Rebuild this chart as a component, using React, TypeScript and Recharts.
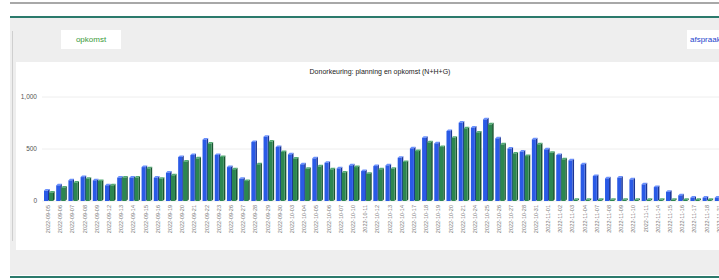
import React from "react";
import { BarChart, Bar, XAxis, YAxis, CartesianGrid } from "recharts";

const dates = [
  "2022-09-05", "2022-09-06", "2022-09-07", "2022-09-08", "2022-09-09",
  "2022-09-12", "2022-09-13", "2022-09-14", "2022-09-15", "2022-09-16",
  "2022-09-19", "2022-09-20", "2022-09-21", "2022-09-22", "2022-09-23",
  "2022-09-26", "2022-09-27", "2022-09-28", "2022-09-29", "2022-09-30",
  "2022-10-03", "2022-10-04", "2022-10-05", "2022-10-06", "2022-10-07",
  "2022-10-10", "2022-10-11", "2022-10-12", "2022-10-13", "2022-10-14",
  "2022-10-17", "2022-10-18", "2022-10-19", "2022-10-20", "2022-10-21",
  "2022-10-24", "2022-10-25", "2022-10-26", "2022-10-27", "2022-10-28",
  "2022-10-31", "2022-11-01", "2022-11-02", "2022-11-03", "2022-11-04",
  "2022-11-07", "2022-11-08", "2022-11-09", "2022-11-10", "2022-11-11",
  "2022-11-14", "2022-11-15", "2022-11-16", "2022-11-17", "2022-11-18",
  "2022-11-21",
];

const planning = [
  100, 150, 198, 230, 198, 150, 224, 224, 326, 224,
  272, 423, 442, 590, 442, 326, 214, 567, 618, 519,
  448, 352, 410, 368, 314, 342, 288, 336, 342, 416,
  506, 608, 554, 673, 753, 705, 785, 602, 503, 474,
  593, 496, 442, 390, 352, 240, 218, 224, 208, 160,
  134, 89, 54, 32, 32, 32,
];

const opkomst = [
  80, 128, 176, 214, 192, 150, 224, 224, 314, 214,
  246, 378, 410, 551, 423, 304, 192, 352, 570, 471,
  407, 310, 333, 304, 272, 326, 262, 304, 310, 375,
  480, 564, 519, 608, 698, 657, 737, 544, 455, 432,
  544, 464, 400, 12, 12, 12, 12, 12, 12, 12,
  12, 12, 10, 10, 10, 10,
];

const yTicks = [0, 500, 1000];

const data = dates.map((d, i) => ({ date: d, planning: planning[i], opkomst: opkomst[i] }));

const makeShape = (front: string, side: string, top: string) => (props: any) => {
  const { x, y, width, height } = props;
  if (x == null || y == null) return null;
  const d = 1.6;
  const w = width;
  const h = Math.max(height, 0);
  return (
    <g>
      <polygon points={`${x + w},${y} ${x + w + d},${y - d} ${x + w + d},${y + h - d} ${x + w},${y + h}`} fill={side} />
      <polygon points={`${x},${y} ${x + d},${y - d} ${x + w + d},${y - d} ${x + w},${y}`} fill={top} />
      <rect x={x} y={y} width={w} height={h} fill={front} />
    </g>
  );
};

const BlueShape = makeShape("#2a5ae6", "#1a3596", "#6a90ff");
const GreenShape = makeShape("#2c8750", "#1a5632", "#52ad74");

const XTick = (props: any) => {
  const { x, y, payload } = props;
  return (
    <text
      x={x}
      y={y}
      transform={`rotate(-90, ${x}, ${y})`}
      textAnchor="end"
      dy="0.35em"
      fontSize={5.5}
      fill="#777"
      fontFamily="Liberation Sans, Arial, sans-serif"
    >
      {payload.value}
    </text>
  );
};

export default function App() {
  return (
    <div
      style={{
        position: "fixed",
        left: 0,
        top: 0,
        width: 719,
        height: 280,
        overflow: "hidden",
        background: "#ffffff",
        fontFamily: "Liberation Sans, Arial, sans-serif",
      }}
    >
      {/* top gray line */}
      <div style={{ position: "absolute", left: 10, top: 2, width: 709, height: 2, background: "#a8a8a8" }} />
      {/* teal line */}
      <div style={{ position: "absolute", left: 10, top: 16, width: 709, height: 2, background: "#2b7a6c" }} />
      {/* gray band */}
      <div style={{ position: "absolute", left: 10, top: 18, width: 709, height: 257, background: "#eeeeee" }} />
      {/* left thin line */}
      <div style={{ position: "absolute", left: 12, top: 31, width: 1, height: 210, background: "#cfcfcf" }} />
      {/* opkomst button */}
      <div
        style={{
          position: "absolute",
          left: 61,
          top: 30,
          width: 60,
          height: 19,
          background: "#ffffff",
          color: "#3a9a3a",
          fontSize: 8,
          lineHeight: "19px",
          textAlign: "center",
        }}
      >
        opkomst
      </div>
      {/* afspraak button */}
      <div
        style={{
          position: "absolute",
          left: 687,
          top: 30,
          width: 50,
          height: 19,
          background: "#ffffff",
          color: "#2244cc",
          fontSize: 8,
          lineHeight: "19px",
          paddingLeft: 3,
          whiteSpace: "nowrap",
        }}
      >
        afspraak
      </div>
      {/* white chart panel */}
      <div style={{ position: "absolute", left: 16, top: 62, width: 703, height: 188, background: "#ffffff" }} />
      {/* bottom teal line */}
      <div style={{ position: "absolute", left: 10, top: 276, width: 709, height: 2, background: "#2b7a6c" }} />
      {/* title */}
      <div
        style={{
          position: "absolute",
          left: 230,
          top: 68,
          width: 300,
          textAlign: "center",
          fontSize: 7,
          color: "#222",
          whiteSpace: "nowrap",
        }}
      >
        Donorkeuring: planning en opkomst (N+H+G)
      </div>
      <div style={{ position: "absolute", left: 0, top: 62 }}>
        <BarChart
          width={740}
          height={190}
          data={data}
          margin={{ top: 35, right: 15, left: 0, bottom: 0 }}
          barSize={4}
          barGap={1}
        >
          <CartesianGrid horizontal={true} vertical={false} stroke="#eeeeee" />
          <XAxis
            dataKey="date"
            interval={0}
            tickLine={false}
            axisLine={false}
            height={51}
            tickSize={0}
            tickMargin={4}
            tick={<XTick />}
          />
          <YAxis
            width={42}
            domain={[0, 1000]}
            ticks={yTicks}
            tickLine={false}
            axisLine={false}
            tickSize={0}
            tickMargin={5}
            tick={{ fontSize: 6.5, fill: "#555", fontFamily: "Liberation Sans, Arial, sans-serif" }}
            tickFormatter={(v: number) => v.toLocaleString("en-US")}
          />
          <Bar dataKey="planning" fill="#2a5ae6" shape={BlueShape} isAnimationActive={false} />
          <Bar dataKey="opkomst" fill="#2c8750" shape={GreenShape} isAnimationActive={false} />
        </BarChart>
      </div>
    </div>
  );
}
